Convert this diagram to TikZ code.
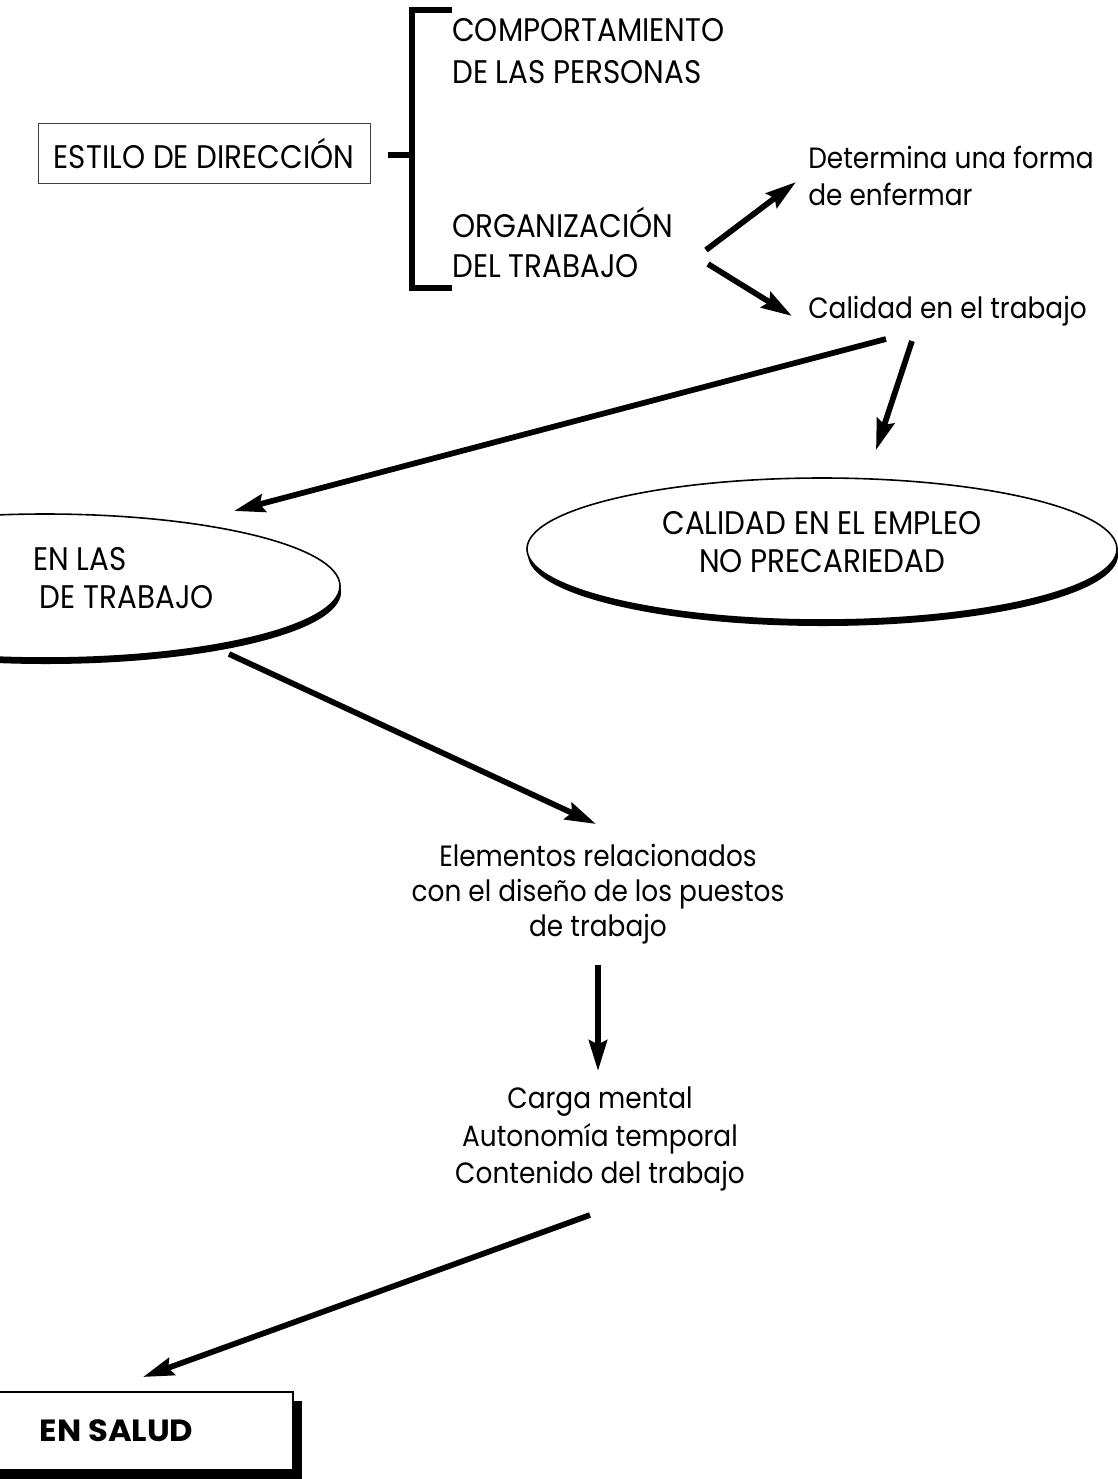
\documentclass[tikz,border=0pt]{standalone}
\usepackage{fontspec}
\setmainfont[FakeStretch=0.9]{Poppins}
\newfontfamily\widef[FakeStretch=1.05]{Poppins}
\usetikzlibrary{arrows.meta,shapes.geometric,shadows}
\begin{document}
\begin{tikzpicture}[x=0.75pt,y=-0.75pt,
  txt/.style={font=\fontsize{22}{28}\selectfont, text=black, inner sep=0pt},
  caps/.style={font=\fontsize{24.5}{30}\selectfont, text=black, inner sep=0pt},
  arr/.style={line width=4.3pt, -{Stealth[length=23pt,width=13.5pt,inset=3pt]}},
  brk/.style={line width=4.5pt, line join=miter},
  oval/.style={ellipse, draw, line width=1.2pt, fill=white, inner sep=0pt,
    drop shadow={shadow xshift=0.8pt, shadow yshift=-4.5pt, fill=black, opacity=1}},
  sbox/.style={rectangle, draw, line width=2pt, fill=white,
    drop shadow={shadow xshift=6.75pt, shadow yshift=-6.75pt, fill=black, opacity=1}},
]
\useasboundingbox (0,0) rectangle (1118,1479);
\begin{scope}
\clip (0,0) rectangle (1118,1479);
% ellipses and boxes
\node[oval, minimum width=442.5pt, minimum height=108pt] (lov) at (45,586) {};
\node[oval, minimum width=442.5pt, minimum height=106.5pt] (rov) at (822,549) {};
\node[sbox, minimum width=264.75pt, minimum height=58.5pt, font=\widef\fontsize{23}{27}\selectfont\bfseries] (salud) at (116.5,1431) {EN SALUD};
\node[rectangle, draw=black!75, line width=0.6pt, minimum width=249pt, minimum height=45pt, caps] (estilo) at (204,153) {ESTILO DE DIRECCIÓN};

% texts
\node[caps, anchor=west, align=left, font=\fontsize{24.5}{31.5}\selectfont] (comp) at (452,51) {COMPORTAMIENTO\\DE LAS PERSONAS};
\node[caps, anchor=west, align=left] (org) at (452,242) {ORGANIZACIÓN\\DEL TRABAJO};
\node[txt, anchor=west, align=left] (det) at (808,176) {Determina una forma\\de enfermar};
\node[txt, anchor=west] (cal) at (808,311) {Calidad en el trabajo};
\node[caps, align=center, font=\fontsize{24.5}{28}\selectfont] (cem) at (822,542) {CALIDAD EN EL EMPLEO\\NO PRECARIEDAD};
\node[caps, anchor=west, align=left, font=\fontsize{24.5}{29}\selectfont] (lt) at (33,578) {EN LAS\\\hspace*{5pt}DE TRABAJO};
\node[txt, align=center, font=\fontsize{22}{26.5}\selectfont] (elem) at (598,894) {Elementos relacionados\\con el diseño de los puestos\\de trabajo};
\node[txt, align=center] (carga) at (600,1139) {Carga mental\\Autonomía temporal\\Contenido del trabajo};

% bracket
\coordinate (bs) at (388,155);
\coordinate (bv) at (412,155);
\coordinate (bt) at (452,10);
\coordinate (bb) at (452,288);
\draw[brk] (bs) -- (bv);
\draw[brk] (bt) -- (bt -| bv) -- (bb -| bv) -- (bb);

% arrows
\coordinate (a1s) at (706,250); \coordinate (a1e) at (796,182);
\coordinate (a2s) at (708,264); \coordinate (a2e) at (792,316);
\coordinate (a3s) at (886,339); \coordinate (a3e) at (234,511);
\coordinate (a4s) at (912,341); \coordinate (a4e) at (876,450);
\coordinate (a5s) at (229,654); \coordinate (a5e) at (596,824);
\coordinate (a6s) at (598,965); \coordinate (a6e) at (598,1071);
\coordinate (a7s) at (590,1215); \coordinate (a7e) at (143,1377);
\draw[arr] (a1s) -- (a1e);
\draw[arr] (a2s) -- (a2e);
\draw[arr] (a3s) -- (a3e);
\draw[arr] (a4s) -- (a4e);
\draw[arr] (a5s) -- (a5e);
\draw[arr] (a6s) -- (a6e);
\draw[arr] (a7s) -- (a7e);
\end{scope}
\end{tikzpicture}
\end{document}
